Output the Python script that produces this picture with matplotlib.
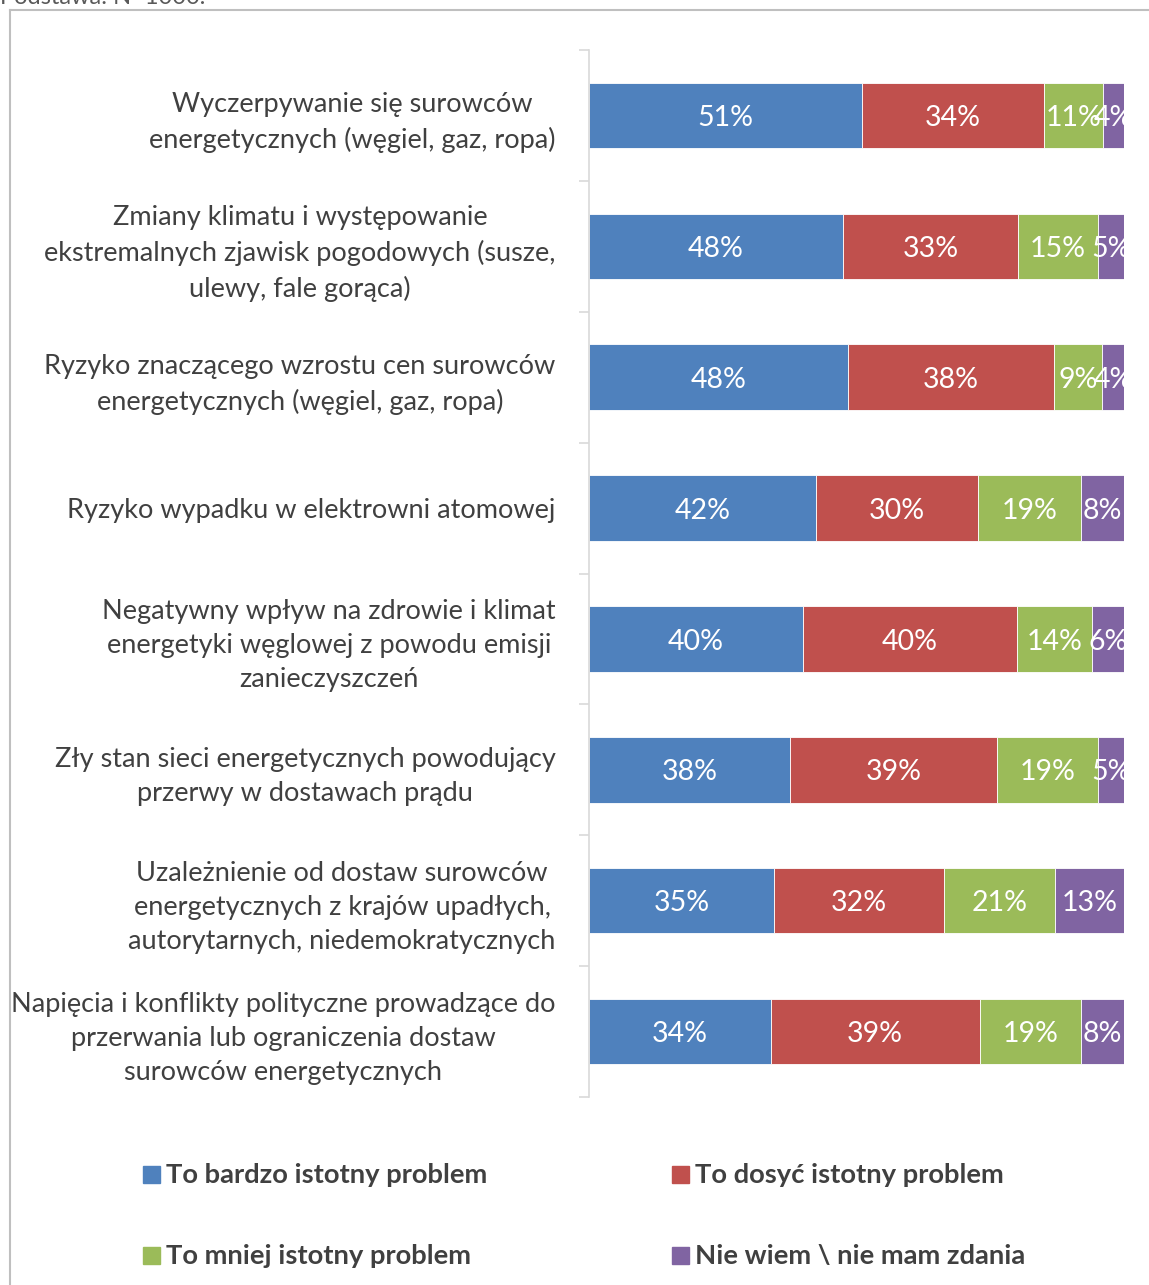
import matplotlib.pyplot as plt
from matplotlib.lines import Line2D
from matplotlib.patches import Rectangle
import numpy as np

plt.rcParams['font.family'] = ['Lato', 'DejaVu Sans']

categories = [
    "Wyczerpywanie się surowców\nenergetycznych (węgiel, gaz, ropa)",
    "Zmiany klimatu i występowanie\nekstremalnych zjawisk pogodowych (susze,\nulewy, fale gorąca)",
    "Ryzyko znaczącego wzrostu cen surowców\nenergetycznych (węgiel, gaz, ropa)",
    "Ryzyko wypadku w elektrowni atomowej",
    "Negatywny wpływ na zdrowie i klimat\nenergetyki węglowej z powodu emisji\nzanieczyszczeń",
    "Zły stan sieci energetycznych powodujący\nprzerwy w dostawach prądu",
    "Uzależnienie od dostaw surowców\nenergetycznych z krajów upadłych,\nautorytarnych, niedemokratycznych",
    "Napięcia i konflikty polityczne prowadzące do\nprzerwania lub ograniczenia dostaw\nsurowców energetycznych",
]
series_names = ["To bardzo istotny problem", "To dosyć istotny problem",
                "To mniej istotny problem", "Nie wiem \\ nie mam zdania"]
bardzo = [51, 48, 48, 42, 40, 38, 35, 34]
dosyc = [34, 33, 38, 30, 40, 39, 32, 39]
mniej = [11, 15, 9, 19, 14, 19, 21, 19]
nie_wiem = [4, 5, 4, 8, 6, 5, 13, 8]

colors = ["#4F81BD", "#C0504D", "#9BBB59", "#8064A2"]
text_color = "#404040"

W, H = 1149, 1285
fig = plt.figure(figsize=(W / 100, H / 100), dpi=100)
ax = fig.add_axes([589 / W, 1 - 1097 / H, 535 / W, 1047 / H])

data = np.array([bardzo, dosyc, mniej, nie_wiem], dtype=float)
shares = data / data.sum(axis=0) * 100  # 100% stacked
y = np.arange(len(categories))
left = np.zeros(len(categories))
for i, name in enumerate(series_names):
    ax.barh(y, shares[i], left=left, height=0.5, color=colors[i],
            edgecolor="white", linewidth=0.6)
    for j in range(len(categories)):
        t = ax.text(left[j] + shares[i][j] / 2, y[j] + 0.02, f"{int(data[i][j])}%",
                    ha="center", va="center", color="white", fontsize=20.5)
        t.set_clip_on(True)
    left += shares[i]

ax.set_xlim(0, 100)
ax.set_ylim(len(categories) - 0.5, -0.5)
ax.set_xticks([])
ax.set_yticks(y)
ax.set_yticklabels(categories, fontsize=19.5, color=text_color)
for lbl in ax.get_yticklabels():
    lbl.set_multialignment("center")
    lbl.set_linespacing(1.45)
ax.set_yticks(np.arange(-0.5, len(categories)), minor=True)
ax.tick_params(axis="y", which="major", length=0, pad=24)
ax.tick_params(axis="y", which="minor", length=7, color="#D9D9D9", width=1.2)
for s in ["top", "right", "bottom"]:
    ax.spines[s].set_visible(False)
ax.spines["left"].set_color("#D9D9D9")
ax.spines["left"].set_linewidth(1.2)

# outer frame of the chart area
fig.add_artist(Line2D([10 / W, 10 / W], [0, 1 - 10 / H], color="#BFBFBF", lw=1.5))
fig.add_artist(Line2D([10 / W, 1], [1 - 10 / H, 1 - 10 / H], color="#BFBFBF", lw=1.5))
fig.text(0, 1 - 4 / H, "Podstawa: N=1000.", fontsize=17, color="#595959", va="baseline")

# legend
leg_pos = [(143, 1175), (672, 1175), (143, 1256), (672, 1256)]
for (lx, ly), name, c in zip(leg_pos, series_names, colors):
    fig.add_artist(Rectangle((lx / W, 1 - (ly + 8) / H), 17 / W, 17 / H,
                             color=c, transform=fig.transFigure))
    fig.text((lx + 23) / W, 1 - ly / H, name, fontsize=19.7, fontweight="bold",
             color=text_color, va="center")

fig.savefig("out.png", dpi=100)
